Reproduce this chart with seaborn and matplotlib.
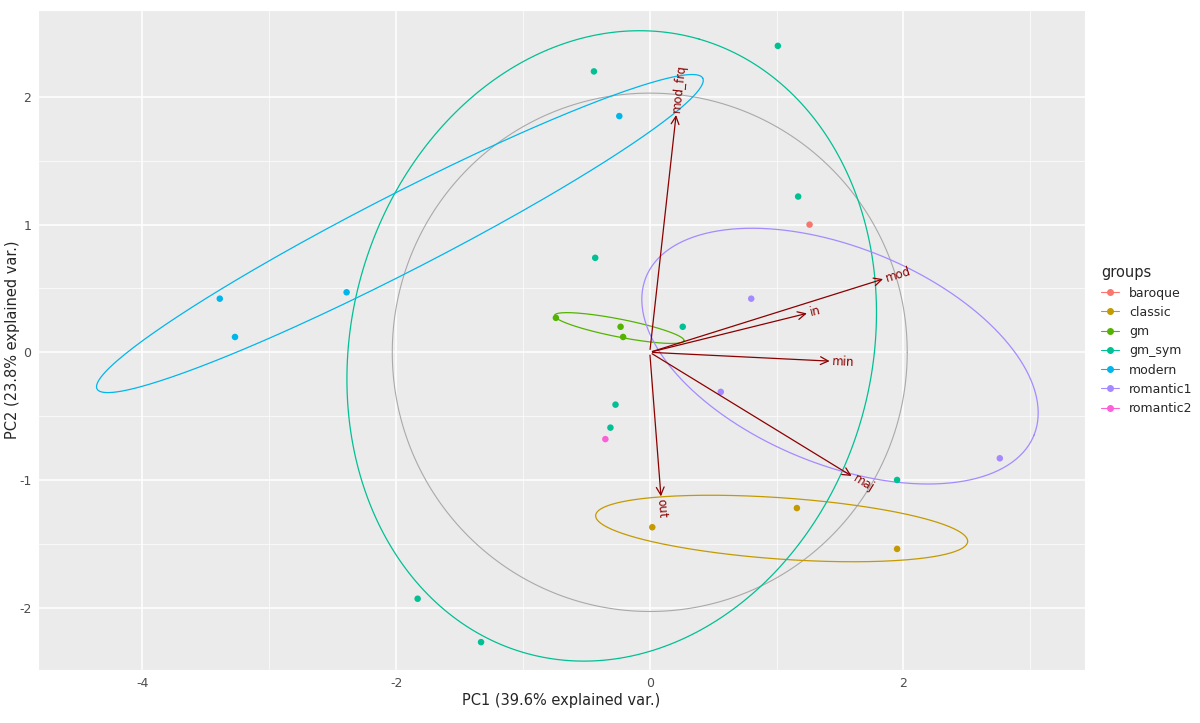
import numpy as np
import pandas as pd
import matplotlib
matplotlib.use("Agg")
import matplotlib.pyplot as plt
from matplotlib.lines import Line2D
import seaborn as sns

groups = ["baroque", "classic", "gm", "gm_sym", "modern", "romantic1", "romantic2"]
colors = ["#F8766D", "#C49A00", "#53B400", "#00C094", "#00B6EB", "#A58AFF", "#FB61D7"]

pc1 = {
    "baroque": [1.26],
    "classic": [0.02, 1.16, 1.95],
    "gm": [-0.74, -0.23, -0.21],
    "gm_sym": [-0.44, 1.01, 1.17, -0.43, 0.26, -0.27, -0.31, 1.95, -1.83, -1.33],
    "modern": [-0.24, -2.39, -3.39, -3.27],
    "romantic1": [0.80, 0.56, 2.76],
    "romantic2": [-0.35],
}
pc2 = {
    "baroque": [1.00],
    "classic": [-1.37, -1.22, -1.54],
    "gm": [0.27, 0.20, 0.12],
    "gm_sym": [2.20, 2.40, 1.22, 0.74, 0.20, -0.41, -0.59, -1.00, -1.93, -2.27],
    "modern": [1.85, 0.47, 0.42, 0.12],
    "romantic1": [0.42, -0.31, -0.83],
    "romantic2": [-0.68],
}

# ellipse: center x, center y, semi-major, semi-minor, angle (deg)
ellipses = {
    "classic": (1.04, -1.38, 1.47, 0.24, -4),
    "gm": (-0.24, 0.19, 0.52, 0.07, -11),
    "gm_sym": (-0.3, 0.05, 2.5, 2.05, 74),
    "modern": (-1.97, 0.93, 2.68, 0.3, 27),
    "romantic1": (1.5, -0.03, 1.65, 0.85, -22),
}

var_names = ["mod_frq", "mod", "in", "min", "maj", "out"]
var_x = [0.21, 1.86, 1.26, 1.44, 1.61, 0.09]
var_y = [1.88, 0.58, 0.31, -0.07, -0.98, -1.15]

rows = []
for g in groups:
    for a, b in zip(pc1[g], pc2[g]):
        rows.append((g, a, b))
df = pd.DataFrame(rows, columns=["groups", "PC1", "PC2"])

sns.set_style("darkgrid", {"axes.facecolor": "#EBEBEB", "grid.color": "white"})
fig = plt.figure(figsize=(12, 7.23), dpi=100)
ax = fig.add_axes([0.032, 0.073, 0.872, 0.913])

t = np.linspace(0, 2 * np.pi, 300)
ax.plot(2.03 * np.cos(t), 2.03 * np.sin(t), color="#A9A9A9", lw=0.8, zorder=2)

for g, c in zip(groups, colors):
    if g not in ellipses:
        continue
    cx, cy, a, b, ang = ellipses[g]
    th = np.radians(ang)
    ex = a * np.cos(t)
    ey = b * np.sin(t)
    ax.plot(cx + ex * np.cos(th) - ey * np.sin(th),
            cy + ex * np.sin(th) + ey * np.cos(th), color=c, lw=0.9, zorder=3)

sns.scatterplot(data=df, x="PC1", y="PC2", hue="groups", hue_order=groups,
                palette=colors, s=22, edgecolor="none", ax=ax, zorder=4,
                legend=False)

for n, vx, vy in zip(var_names, var_x, var_y):
    ax.annotate("", xy=(vx, vy), xytext=(0, 0),
                arrowprops=dict(arrowstyle="->", color="#8B0000", lw=0.9,
                                mutation_scale=14), zorder=5)
    ang = np.degrees(np.arctan2(vy, vx))
    ax.text(vx, vy, n, rotation=ang, rotation_mode="anchor", ha="left",
            va="center", color="#8B0000", fontsize=8.5, zorder=6)

ax.set_xlim(-4.82, 3.43)
ax.set_ylim(-2.49, 2.68)
ax.set_xticks([-4, -2, 0, 2])
ax.set_yticks([-2, -1, 0, 1, 2])
ax.set_xticklabels(["-4", "-2", "0", "2"])
ax.set_yticklabels(["-2", "-1", "0", "1", "2"])
ax.set_xticks([-3, -1, 1, 3], minor=True)
ax.set_yticks([-1.5, -0.5, 0.5, 1.5], minor=True)
ax.grid(which="major", color="white", lw=1.1)
ax.grid(which="minor", color="white", lw=0.5)
ax.tick_params(axis="both", labelsize=9, colors="#4D4D4D", length=3, pad=2)
ax.set_xlabel("PC1 (39.6% explained var.)", fontsize=10.5, labelpad=2)
ax.set_ylabel("")
fig.text(0.004, 0.53, "PC2 (23.8% explained var.)", rotation=90,
         ha="left", va="center", fontsize=10.5)

handles = [Line2D([0], [0], color=c, marker="o", markersize=4, lw=0.8)
           for c in colors]
ax.legend(handles, groups, title="groups", loc="center left",
          bbox_to_anchor=(1.005, 0.5), frameon=False, fontsize=9,
          title_fontsize=10.5, alignment="left", handlelength=1.4)

fig.savefig("out.png", dpi=100)
